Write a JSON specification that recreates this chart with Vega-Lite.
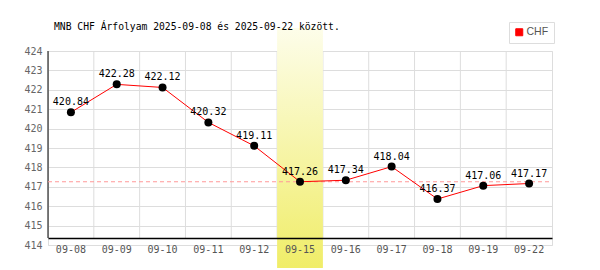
{
  "$schema": "https://vega.github.io/schema/vega-lite/v6.json",
  "width": 504,
  "height": 194,
  "autosize": "none",
  "padding": {"left": 48, "right": 48, "top": 51, "bottom": 25},
  "background": "white",
  "config": {
    "view": {"stroke": "#dddddd", "strokeWidth": 1},
    "font": "DejaVu Sans Mono"
  },
  "title": {
    "text": "MNB CHF Árfolyam 2025-09-08 és 2025-09-22 között.",
    "anchor": "start",
    "frame": "group",
    "dx": 6,
    "offset": -18.5,
    "baseline": "alphabetic",
    "font": "DejaVu Sans Mono",
    "fontSize": 9.7,
    "fontWeight": "normal",
    "color": "#000000"
  },
  "datasets": {
    "rates": [
      {"date": "09-08", "value": 420.84},
      {"date": "09-09", "value": 422.28},
      {"date": "09-10", "value": 422.12},
      {"date": "09-11", "value": 420.32},
      {"date": "09-12", "value": 419.11},
      {"date": "09-15", "value": 417.26},
      {"date": "09-16", "value": 417.34},
      {"date": "09-17", "value": 418.04},
      {"date": "09-18", "value": 416.37},
      {"date": "09-19", "value": 417.06},
      {"date": "09-22", "value": 417.17}
    ]
  },
  "data": {"name": "rates"},
  "encoding": {
    "x": {
      "field": "date",
      "type": "ordinal",
      "scale": {"type": "band", "paddingInner": 0, "paddingOuter": 0},
      "axis": {
        "title": null,
        "grid": false,
        "ticks": false,
        "domain": true,
        "domainColor": "#000000",
        "domainWidth": 1.5,
        "offset": -7,
        "labelAngle": 0,
        "labelPadding": 6,
        "labelFont": "DejaVu Sans Mono",
        "labelFontSize": 10,
        "labelColor": "#555555",
        "zindex": 1
      }
    },
    "y": {
      "field": "value",
      "type": "quantitative",
      "scale": {"domain": [414, 424], "nice": false, "zero": false},
      "axis": {
        "title": null,
        "values": [414, 415, 416, 417, 418, 419, 420, 421, 422, 423, 424],
        "tickCount": 12,
        "grid": true,
        "gridColor": "#dddddd",
        "domain": false,
        "ticks": false,
        "labelOverlap": false,
        "labelFlush": false,
        "labelPadding": 6,
        "labelFont": "DejaVu Sans Mono",
        "labelFontSize": 10,
        "labelColor": "#666666"
      }
    }
  },
  "layer": [
    {
      "mark": {"type": "rule", "strokeWidth": 1},
      "encoding": {
        "x": {"field": "date", "type": "ordinal", "bandPosition": 0},
        "y": {"datum": 424, "type": "quantitative"},
        "y2": {"datum": 414.36},
        "color": {"condition": {"test": "datum.date === '09-08'", "value": "#000000"}, "value": "#dddddd"},
        "strokeWidth": {"condition": {"test": "datum.date === '09-08'", "value": 1.5}, "value": 1}
      }
    },
    {
      "transform": [{"filter": "datum.date === '09-15'"}],
      "mark": {
        "type": "rect",
        "color": {
          "gradient": "linear",
          "x1": 0, "y1": 0, "x2": 0, "y2": 1,
          "stops": [
            {"offset": 0, "color": "#fdfdea"},
            {"offset": 1, "color": "#f0ed68"}
          ]
        }
      },
      "encoding": {
        "x": {"field": "date", "type": "ordinal"},
        "y": {"datum": 425.19, "type": "quantitative"},
        "y2": {"datum": 412.81}
      }
    },
    {
      "transform": [{"filter": "datum.date === '09-15'"}],
      "mark": {"type": "rule", "color": "#ff9999", "strokeDash": [4, 3], "strokeWidth": 1},
      "encoding": {
        "x": {"value": 0},
        "x2": {"value": 504}
      }
    },
    {
      "mark": {"type": "line", "strokeWidth": 1},
      "encoding": {
        "color": {
          "datum": "CHF",
          "scale": {"range": ["#ff0000"]},
          "legend": {
            "title": null,
            "orient": "none",
            "legendX": 461,
            "legendY": -29,
            "padding": 5,
            "strokeColor": "#dddddd",
            "fillColor": "#ffffff",
            "symbolType": "square",
            "symbolSize": 49,
            "symbolOffset": 0,
            "labelFont": "Liberation Sans",
            "labelFontSize": 10.5,
            "labelColor": "#555555",
            "labelOffset": 2,
            "encode": {
              "symbols": {"update": {"fill": {"value": "#ff0000"}, "stroke": {"value": "#777777"}, "strokeWidth": {"value": 1}}}
            }
          }
        }
      }
    },
    {
      "mark": {"type": "circle", "color": "#000000", "opacity": 1, "size": 64}
    },
    {
      "mark": {"type": "text", "dy": -7, "baseline": "alphabetic", "align": "center", "font": "DejaVu Sans Mono", "fontSize": 10, "color": "#000000"},
      "encoding": {
        "text": {"field": "value", "type": "quantitative", "format": ".2f"}
      }
    }
  ]
}
